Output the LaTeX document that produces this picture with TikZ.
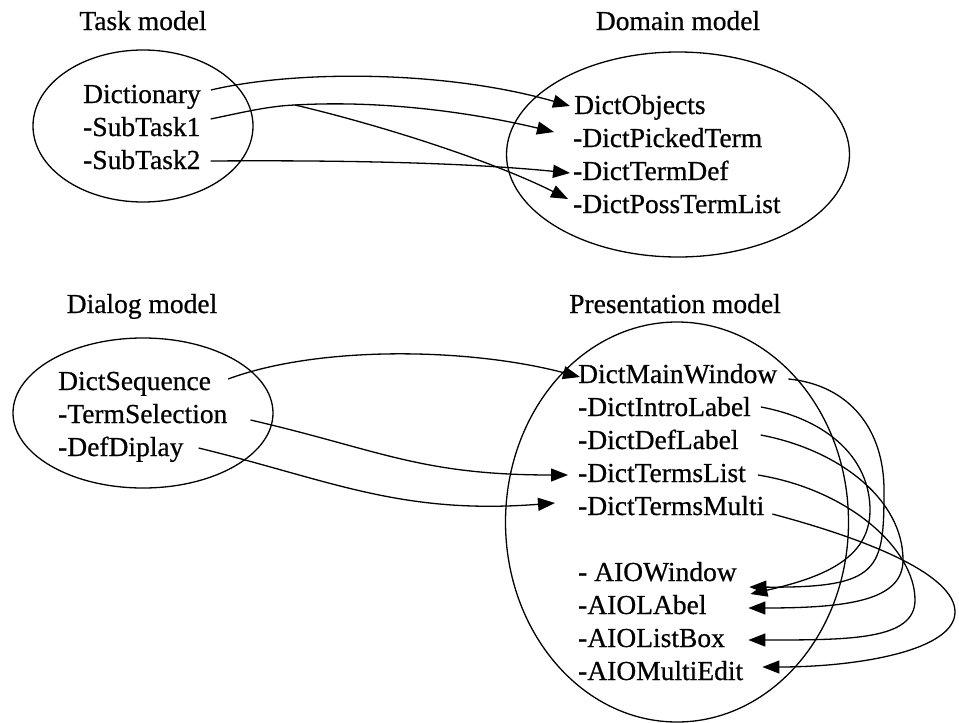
\documentclass[tikz,border=0pt]{standalone}
\usepackage{fontspec}
\setmainfont{Liberation Serif}[FakeBold=0.6]
\usetikzlibrary{arrows.meta,shapes.geometric}
\begin{document}
\begin{tikzpicture}[x=1pt,y=-1pt,
  txt/.style={font=\fontsize{27.5}{33}\selectfont, inner sep=0pt, text height=19pt, text depth=6pt, anchor=base west},
  ttl/.style={font=\fontsize{27.5}{33}\selectfont, inner sep=0pt, anchor=base},
  oval/.style={draw, ellipse, line width=1.3pt, inner sep=0pt},
  conn/.style={line width=1.3pt},
  arr/.style={conn, -{Triangle[length=17pt,width=13pt]}}
]
\useasboundingbox (0,0) rectangle (959,723);

% ellipses
\node[oval, minimum width=220pt, minimum height=152pt] (taskE) at (143,126) {};
\node[oval, minimum width=343pt, minimum height=205pt] (domE) at (678,154.5) {};
\node[oval, minimum width=260pt, minimum height=150pt] (dlgE) at (143,413) {};
\node[oval, minimum width=343pt, minimum height=400pt] (preE) at (677,522) {};

% titles
\node[ttl] (taskT) at (143,30) {Task model};
\node[ttl] (domT) at (678,30) {Domain model};
\node[ttl] (dlgT) at (142,313) {Dialog model};
\node[ttl] (preT) at (675,313) {Presentation model};

% task model
\node[txt] (dict) at (83,103) {Dictionary};
\node[txt] (st1) at (83,136) {-SubTask1};
\node[txt] (st2) at (83,169) {-SubTask2};

% domain model
\node[txt] (dobj) at (574,114) {DictObjects};
\node[txt] (dpick) at (573,147) {-DictPickedTerm};
\node[txt] (dtdef) at (573,180) {-DictTermDef};
\node[txt] (dposs) at (573,213) {-DictPossTermList};

% dialog model
\node[txt] (dseq) at (58,390) {DictSequence};
\node[txt] (tsel) at (58,423) {-TermSelection};
\node[txt] (ddip) at (58,456) {-DefDiplay};

% presentation model
\node[txt] (pmw) at (578,383) {DictMainWindow};
\node[txt] (pil) at (578,416) {-DictIntroLabel};
\node[txt] (pdl) at (578,449) {-DictDefLabel};
\node[txt] (ptl) at (578,482) {-DictTermsList};
\node[txt] (ptm) at (578,515) {-DictTermsMulti};
\node[txt] (aw) at (578,581) {- AIOWindow};
\node[txt] (al) at (578,614) {-AIOLAbel};
\node[txt] (alb) at (578,647) {-AIOListBox};
\node[txt] (ame) at (578,680) {-AIOMultiEdit};

% task -> domain
\coordinate (split) at (295,105);
\draw[arr] ([xshift=10pt,yshift=6.5pt]dict.east) .. controls (295,70) and (445,70) .. ([xshift=-4pt,yshift=1.5pt]dobj.west);
\draw[conn] ([xshift=10pt,yshift=10.5pt]st1.east) .. controls (240,113) and (268,106) .. (split);
\draw[arr] (split) .. controls (380,100) and (470,112) .. ([xshift=-19pt,yshift=8.5pt]dpick.west);
\draw[arr] (split) .. controls (380,125) and (490,160) .. ([xshift=-5pt,yshift=7.5pt]dposs.west);
\draw[arr] ([xshift=10pt,yshift=1.5pt]st2.east) .. controls (350,160) and (470,163) .. ([xshift=-3pt,yshift=0.5pt]dtdef.west);

% dialog -> presentation
\draw[arr] ([xshift=17pt,yshift=4.5pt]dseq.east) .. controls (320,345) and (470,348) .. ([xshift=2pt,yshift=-0.5pt]pmw.west);
\draw[arr] ([xshift=23pt,yshift=-3.5pt]tsel.east) .. controls (380,450) and (420,475) .. ([xshift=-10pt,yshift=0.5pt]ptl.west);
\draw[arr] ([xshift=15pt,yshift=1.5pt]ddip.east) .. controls (330,480) and (400,515) .. ([xshift=-23pt,yshift=5.5pt]ptm.west);

% presentation loops
\draw[arr] ([xshift=11pt,yshift=-2.5pt]pmw.east) .. controls (850,385) and (884,430) .. (884,490) .. controls (884,570) and (880,588) .. ([xshift=12.4pt,yshift=-12.5pt]aw.east);
\draw[arr] ([xshift=10pt,yshift=2.5pt]pil.east) .. controls (830,420) and (870,460) .. (870,510) .. controls (870,560) and (820,578) .. ([xshift=43.7pt,yshift=13.5pt]al.east);
\draw[arr] ([xshift=22pt,yshift=7.5pt]pdl.east) .. controls (840,450) and (903,500) .. (903,560) .. controls (903,600) and (850,608) .. ([xshift=41.7pt,yshift=-0.5pt]al.east);
\draw[arr] ([xshift=12pt,yshift=0.5pt]ptl.east) .. controls (850,490) and (915,550) .. (915,600) .. controls (915,640) and (850,640) .. ([xshift=23.3pt,yshift=0.5pt]alb.east);
\draw[arr] ([xshift=8pt,yshift=-5.5pt]ptm.east) .. controls (870,540) and (955,575) .. (955,612) .. controls (955,650) and (860,667) .. ([xshift=19pt,yshift=6.5pt]ame.east);
\end{tikzpicture}
\end{document}
